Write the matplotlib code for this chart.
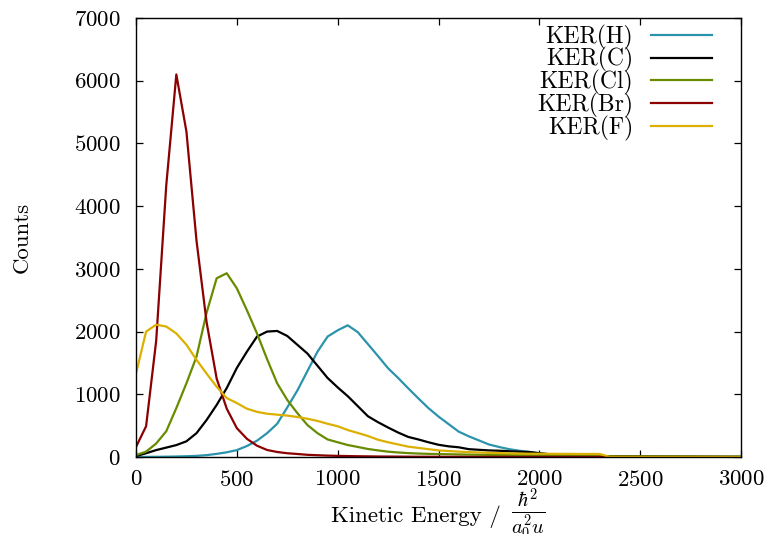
"""KER distributions, gnuplot-like styling."""
import matplotlib
matplotlib.use('Agg')
import matplotlib.pyplot as plt
import numpy as np

plt.rcParams['font.family'] = 'cmr10'
plt.rcParams['mathtext.fontset'] = 'cm'
plt.rcParams['axes.formatter.use_mathtext'] = True

W, H = 771, 534

# ─── data (bins every 50 units, 0..3000) ───
energy = np.arange(0, 3001, 50)

ker_h = [0, 2, 3, 5, 8, 12, 18, 30, 50, 75,
         110, 175, 260, 380, 530, 790, 1060, 1370, 1680, 1920,
         2020, 2100, 1990, 1800, 1610, 1415, 1260, 1095, 935, 780,
         645, 525, 405, 330, 265, 200, 160, 125, 100, 80,
         60, 40, 30, 22, 16, 12, 9, 7, 5, 4,
         3, 2, 2, 1, 1, 1, 0, 0, 0, 0,
         0]
ker_c = [15, 60, 110, 150, 190, 250, 380, 590, 830, 1100,
         1420, 1680, 1920, 2000, 2010, 1930, 1790, 1650, 1455, 1260,
         1110, 970, 810, 650, 555, 470, 390, 320, 280, 235,
         195, 170, 155, 125, 115, 105, 100, 92, 85, 80,
         60, 45, 35, 28, 22, 18, 15, 12, 10, 9,
         8, 7, 6, 6, 5, 5, 4, 4, 3, 3,
         3]
ker_cl = [30, 85, 215, 410, 780, 1175, 1600, 2300, 2850, 2930,
          2690, 2340, 1970, 1560, 1175, 910, 700, 510, 380, 280,
          235, 191, 160, 128, 105, 85, 72, 62, 55, 50,
          47, 44, 41, 38, 36, 34, 32, 30, 28, 26,
          24, 22, 20, 18, 17, 16, 15, 14, 13, 12,
          11, 10, 10, 9, 9, 8, 8, 7, 7, 6,
          6]
ker_br = [160, 490, 1850, 4330, 6100, 5190, 3450, 2150, 1250, 770,
          460, 290, 180, 112, 80, 60, 48, 35, 28, 22,
          18, 15, 12, 10, 8, 7, 6, 5, 4, 4,
          3, 3, 3, 2, 2, 2, 2, 2, 1, 1,
          1, 1, 1, 1, 1, 1, 1, 1, 1, 1,
          0, 0, 0, 0, 0, 0, 0, 0, 0, 0,
          0]
ker_f = [1330, 2000, 2110, 2080, 1970, 1790, 1550, 1330, 1120, 940,
         860, 770, 720, 690, 675, 660, 638, 610, 575, 530,
         490, 430, 383, 335, 275, 235, 200, 165, 145, 125,
         105, 95, 85, 78, 72, 66, 62, 58, 55, 53,
         52, 51, 50, 50, 49, 49, 48, 0, 0, 0,
         0, 0, 0, 0, 0, 0, 0, 0, 0, 0,
         0]

series = [
    (r'KER(H)',  ker_h,  '#2b93ab'),
    (r'KER(C)',  ker_c,  '#000000'),
    (r'KER(Cl)', ker_cl, '#688b00'),
    (r'KER(Br)', ker_br, '#8b0000'),
    (r'KER(F)',  ker_f,  '#dcb000'),
]

fig = plt.figure(figsize=(W / 100, H / 100), dpi=100)
ax = fig.add_axes([136/W, 1 - 457/H, 605/W, 439/H])

for label, vals, col in series:
    ax.plot(energy, vals, color=col, lw=1.6, label=label)

ax.set_xlim(0, 3000)
ax.set_ylim(0, 7000)
ax.set_xticks(np.arange(0, 3001, 500))
ax.set_yticks(np.arange(0, 7001, 1000))
ax.tick_params(direction='in', length=5, width=0.9, labelsize=16.5,
               top=True, right=True, pad=9)
ax.tick_params(axis='y', pad=11)
for sp in ax.spines.values():
    sp.set_linewidth(1.0)

ax.set_ylabel('Counts', fontsize=16.5, labelpad=30)

# x label: plain text plus a separately placed fraction for the unit
fig.text(331/W, 1 - 522/H, 'Kinetic Energy /', fontsize=16.5,
         ha='left', va='baseline')
fig.text(511/W, 1 - 514/H, r'$\frac{\hbar^2}{a_0^2 u}$', fontsize=21,
         ha='left', va='center')

ax.legend(loc='upper right', frameon=False, markerfirst=False, fontsize=17,
          handlelength=2.6, handletextpad=0.75, labelspacing=-0.1,
          borderaxespad=0.1, bbox_to_anchor=(0.972, 1.012))

fig.savefig('out.png', dpi=100)
plt.close()
